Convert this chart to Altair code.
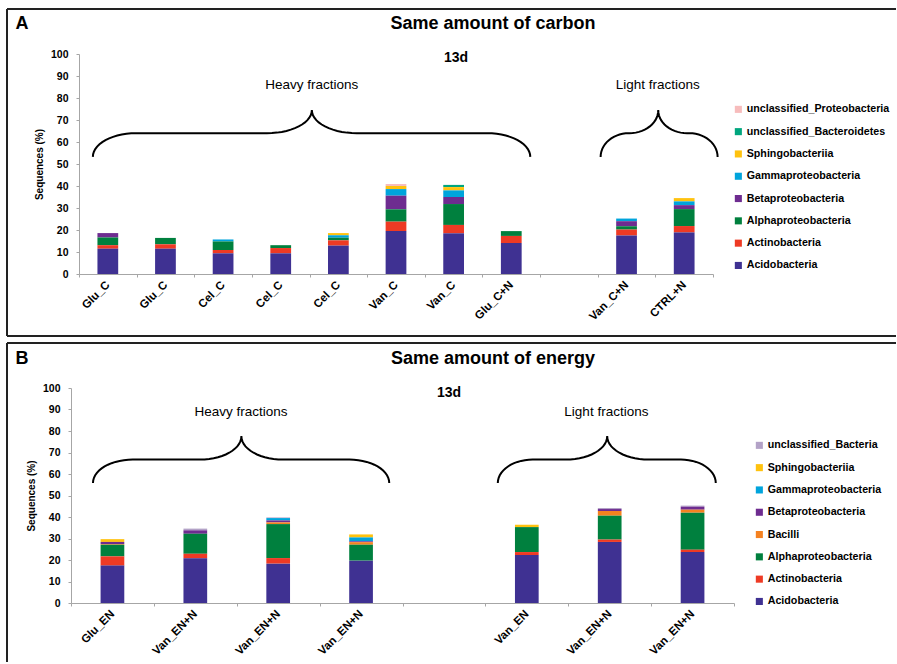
import math
import altair as alt
import pandas as pd

FONT = "Liberation Sans, Arial, sans-serif"

# ---------------- Panel A data ----------------
a_samples = ["Glu_C", "Glu_C", "Cel_C", "Cel_C", "Cel_C", "Van_C", "Van_C", "Glu_C+N", "", "Van_C+N", "CTRL+N"]
a_taxa = ["unclassified_Proteobacteria", "unclassified_Bacteroidetes", "Sphingobacteriia",
          "Gammaproteobacteria", "Betaproteobacteria", "Alphaproteobacteria",
          "Actinobacteria", "Acidobacteria"]
a_colors = ["#f7bcbc", "#00a67e", "#ffc20e", "#00a4dc", "#6e2c90", "#00803e", "#ee3a24", "#3f3192"]
a_acido = [11.5, 11.5, 9.4, 9.4, 12.9, 19.5, 18.5, 14.1, 0, 17.5, 18.9]
a_actino = [1.6, 2.0, 1.5, 2.4, 2.4, 4.3, 3.8, 3.2, 0, 2.7, 2.9]
a_alpha = [3.5, 2.9, 3.9, 1.3, 1.2, 5.6, 9.5, 2.2, 0, 1.5, 7.7]
a_beta = [2.0, 0, 0, 0, 0, 6.2, 3.2, 0, 0, 2.3, 1.8]
a_gamma = [0, 0, 0.9, 0, 1.1, 3.0, 3.0, 0, 0, 1.2, 1.7]
a_sphingo = [0, 0, 0, 0, 1.0, 1.4, 1.5, 0, 0, 0, 1.5]
a_bacteroidetes = [0, 0, 0, 0, 0, 0, 1.0, 0, 0, 0, 0]
a_proteo = [0, 0, 0, 0, 0, 0.9, 0, 0, 0, 0, 0]
a_series = {
    "Acidobacteria": a_acido, "Actinobacteria": a_actino, "Alphaproteobacteria": a_alpha,
    "Betaproteobacteria": a_beta, "Gammaproteobacteria": a_gamma, "Sphingobacteriia": a_sphingo,
    "unclassified_Bacteroidetes": a_bacteroidetes, "unclassified_Proteobacteria": a_proteo,
}

# ---------------- Panel B data ----------------
b_samples = ["Glu_EN", "Van_EN+N", "Van_EN+N", "Van_EN+N", "", "Van_EN", "Van_EN+N", "Van_EN+N"]
b_taxa = ["unclassified_Bacteria", "Sphingobacteriia", "Gammaproteobacteria", "Betaproteobacteria",
          "Bacilli", "Alphaproteobacteria", "Actinobacteria", "Acidobacteria"]
b_colors = ["#b3a2c7", "#ffc20e", "#00a4dc", "#6e2c90", "#f58220", "#00803e", "#ee3a24", "#3f3192"]
b_acido = [17.4, 20.8, 18.3, 19.7, 0, 22.3, 28.4, 23.7]
b_actino = [4.3, 2.1, 2.6, 0, 0, 1.4, 1.1, 1.1]
b_alpha = [5.4, 9.3, 15.8, 7.4, 0, 11.6, 11.1, 17.2]
b_bacilli = [0.3, 0, 0.8, 1.2, 0, 0, 2.2, 1.4]
b_beta = [1.0, 1.6, 0.9, 0.4, 0, 0, 0.9, 1.4]
b_gamma = [0, 0, 1.1, 1.8, 0, 0, 0, 0]
b_sphingo = [1.3, 0, 0, 1.4, 0, 1.1, 0, 0]
b_uncl = [0, 0.8, 0.3, 0, 0, 0, 0.5, 0.5]
b_series = {
    "Acidobacteria": b_acido, "Actinobacteria": b_actino, "Alphaproteobacteria": b_alpha,
    "Bacilli": b_bacilli, "Betaproteobacteria": b_beta, "Gammaproteobacteria": b_gamma,
    "Sphingobacteriia": b_sphingo, "unclassified_Bacteria": b_uncl,
}

# text
y_title = "Sequences (%)"
y_ticks = [0, 10, 20, 30, 40, 50, 60, 70, 80, 90, 100]
a_letter, a_title = "A", "Same amount of carbon"
b_letter, b_title = "B", "Same amount of energy"
day_label = "13d"
group_labels = ["Heavy fractions", "Light fractions"]

GRAY = "#a6a6a6"


def long_table(samples, taxa, series):
    keys = [f"{s}|{i}" for i, s in enumerate(samples)]
    rows = []
    for ti, t in enumerate(taxa):
        for k, v in zip(keys, series[t]):
            if v > 0:
                rows.append({"key": k, "taxon": t, "value": v, "rank": len(taxa) - 1 - ti})
    return keys, pd.DataFrame(rows)


def brace_points(bid, x0, x1, xm, y_end, y_flat, y_tip, r_end, r_tip, steps=14):
    pts = []
    for i in range(steps + 1):
        t = math.pi - (math.pi / 2) * i / steps
        pts.append((x0 + r_end + r_end * math.cos(t), y_end + (y_flat - y_end) * math.sin(t)))
    for i in range(steps + 1):
        t = -math.pi / 2 + (math.pi / 2) * i / steps
        pts.append((xm - r_tip + r_tip * math.cos(t), y_tip + (y_tip - y_flat) * math.sin(t)))
    for i in range(steps + 1):
        t = math.pi + (math.pi / 2) * i / steps
        pts.append((xm + r_tip + r_tip * math.cos(t), y_tip + (y_tip - y_flat) * math.sin(t)))
    for i in range(steps + 1):
        t = math.pi / 2 - (math.pi / 2) * i / steps
        pts.append((x1 - r_end + r_end * math.cos(t), y_end + (y_flat - y_end) * math.sin(t)))
    return [{"bx": x, "by": y, "bid": bid, "bord": j} for j, (x, y) in enumerate(pts)]


one = pd.DataFrame({"z": [0]})


def panel(samples, taxa, colors, series, width, height, xrange, yoffset, band_w,
          braces, label_pos, letter, title, title_xy, day_xy, legend_xy, frame):
    keys, df = long_table(samples, taxa, series)
    n = len(samples)
    xscale = dict(domain=[0, n], range=xrange, nice=False, zero=False)
    yscale = alt.Scale(domain=[0, 100], nice=False, zero=True)
    y_axis = alt.Axis(values=y_ticks, grid=False, offset=yoffset, title=y_title,
                      labelFont=FONT, labelFontSize=10.5, labelFontWeight="bold",
                      labelColor="black", tickColor=GRAY, domainColor=GRAY,
                      tickSize=3, labelPadding=8, titleFont=FONT, titleFontSize=10,
                      titleFontWeight="bold", titleColor="black", titlePadding=6,
                      labelOverlap=False)
    bars = alt.Chart(df).mark_bar(width=alt.RelativeBandSize(band_w)).encode(
        x=alt.X("key:N", title=None,
                scale=alt.Scale(domain=keys, paddingInner=0, paddingOuter=0, range=xrange),
                axis=alt.Axis(labelExpr="datum.value ? split(datum.value, '|')[0] : ''",
                              tickBand="extent",
                              labelAngle=-45, labelAlign="right", labelBaseline="middle",
                              labelFont=FONT, labelFontSize=11.5, labelFontWeight="bold",
                              labelColor="black", tickColor=GRAY, domainColor=GRAY,
                              tickSize=3, labelPadding=6, labelOverlap=False)),
        y=alt.Y("value:Q", stack="zero", title=y_title, scale=yscale, axis=y_axis),
        color=alt.Color("taxon:N", scale=alt.Scale(domain=taxa, range=colors),
                        legend=alt.Legend(title=None, orient="none", legendX=legend_xy[0],
                                          legendY=legend_xy[1], symbolType="square",
                                          symbolSize=50, symbolStrokeWidth=0, padding=0,
                                          labelFont=FONT, labelFontSize=10.7,
                                          labelFontWeight="bold", labelColor="black",
                                          labelOffset=3, rowPadding=10.3, labelLimit=300)),
        order=alt.Order("rank:Q", sort="ascending"),
    )
    bdf = pd.DataFrame([p for b in braces for p in brace_points(*b)])
    brace = alt.Chart(bdf).mark_line(color="black", strokeWidth=2).encode(
        x=alt.X("bx:Q", scale=alt.Scale(**xscale), axis=None),
        y=alt.Y("by:Q", title=y_title, scale=yscale, axis=y_axis),
        detail="bid:N",
        order="bord:Q",
    )
    ldf = pd.DataFrame({"tx": [p[0] for p in label_pos], "ty": [p[1] for p in label_pos],
                        "t": group_labels})
    labels = alt.Chart(ldf).mark_text(font=FONT, fontSize=13.5, color="black",
                                      baseline="middle").encode(
        x=alt.X("tx:Q", scale=alt.Scale(**xscale), axis=None),
        y=alt.Y("ty:Q", title=y_title, scale=yscale, axis=y_axis),
        text="t:N",
    )
    letter_t = alt.Chart(one).mark_text(font=FONT, fontSize=18, fontWeight="bold",
                                        color="black", baseline="middle").encode(
        x=alt.value(title_xy[0][0]), y=alt.value(title_xy[0][1]), text=alt.value(letter))
    title_t = alt.Chart(one).mark_text(font=FONT, fontSize=18, fontWeight="bold",
                                       color="black", baseline="middle").encode(
        x=alt.value(title_xy[1][0]), y=alt.value(title_xy[1][1]), text=alt.value(title))
    day_t = alt.Chart(one).mark_text(font=FONT, fontSize=14, fontWeight="bold",
                                     color="black", baseline="middle").encode(
        x=alt.value(day_xy[0]), y=alt.value(day_xy[1]), text=alt.value(day_label))
    fl, ft, fr, fb, closed = frame
    rules = [
        alt.Chart(one).mark_rule(color="#222222", strokeWidth=2).encode(
            x=alt.value(fl), x2=alt.value(fr), y=alt.value(ft)),
        alt.Chart(one).mark_rule(color="#222222", strokeWidth=2).encode(
            x=alt.value(fl), y=alt.value(ft), y2=alt.value(fb)),
    ]
    if closed:
        rules.append(alt.Chart(one).mark_rule(color="#222222", strokeWidth=2).encode(
            x=alt.value(fl), x2=alt.value(fr), y=alt.value(fb)))
    return alt.layer(bars, brace, labels, letter_t, title_t, day_t, *rules).resolve_scale(
        x="independent").properties(width=width, height=height)


panel_a = panel(
    a_samples, a_taxa, a_colors, a_series, 642, 220, [8, 642], -8, 0.36,
    braces=[("h", 0.24, 7.83, 4.04, 53.2, 64, 74.5, 0.75, 0.78),
            ("l", 9.05, 11.08, 10.05, 53.2, 64, 74.5, 0.49, 0.5)],
    label_pos=[(4.04, 85.9), (10.04, 85.9)],
    letter=a_letter, title=a_title,
    title_xy=[(-49, -30), (422, -30)], day_xy=(385, 4),
    legend_xy=(662, 50), frame=(-64, -45, 825, 282, True),
)

panel_b = panel(
    b_samples, b_taxa, b_colors, b_series, 663, 215, [0, 663], 0, 0.286,
    braces=[("h", 0.265, 3.84, 2.056, 55.8, 66.7, 77.6, 0.48, 0.5),
            ("l", 5.15, 7.78, 6.47, 55.8, 66.7, 77.6, 0.42, 0.5)],
    label_pos=[(2.05, 89), (6.46, 89)],
    letter=b_letter, title=b_title,
    title_xy=[(-49, -29), (422, -29)], day_xy=(378, 5),
    legend_xy=(683, 52), frame=(-64, -45, 825, 274, False),
)

chart = alt.vconcat(panel_a, panel_b, spacing=114, bounds="flush").resolve_scale(
    color="independent").properties(
    padding={"left": 6, "top": 8, "right": 0, "bottom": 0}
).configure_view(stroke=None)

chart.save("out.html", embed_options={"renderer": "svg", "actions": False})
